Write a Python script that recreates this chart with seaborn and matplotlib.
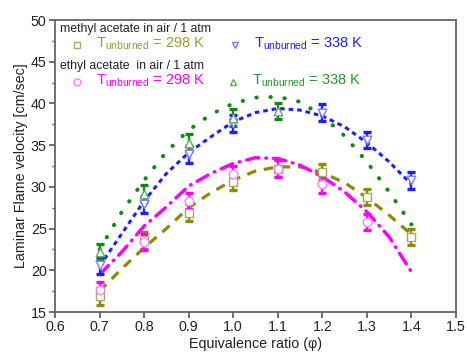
import numpy as np
import pandas as pd
import matplotlib
matplotlib.use("Agg")
import matplotlib.pyplot as plt
import seaborn as sns

# ---- data ----
phi_pts = [0.7, 0.8, 0.9, 1.0, 1.1, 1.2, 1.3, 1.4]
methyl_298 = [16.9, 23.6, 26.9, 30.6, 32.2, 31.8, 28.8, 24.0]
methyl_338 = [20.6, 27.9, 33.9, 37.6, np.nan, 38.9, 35.6, 30.8]
ethyl_298 = [17.6, 23.4, 28.3, 31.5, 32.2, 30.3, 25.8, np.nan]
ethyl_338 = [22.2, 29.2, 35.3, 38.3, 39.1, np.nan, np.nan, np.nan]
err = [1.0, 1.0, 1.0, 1.0, 1.0, 1.0, 1.0, 1.0]

phi_fit = [0.7, 0.75, 0.8, 0.85, 0.9, 0.95, 1.0, 1.05, 1.1, 1.15, 1.2, 1.25, 1.3, 1.35, 1.4]
fit_methyl_298 = [17.5, 20.2, 22.7, 25.0, 27.5, 29.3, 30.8, 31.9, 32.4, 32.4, 31.7, 30.5, 28.7, 26.6, 24.3]
fit_methyl_338 = [20.5, 24.4, 28.3, 31.6, 34.1, 36.0, 37.8, 38.9, 39.4, 39.2, 38.5, 37.2, 35.3, 33.0, 30.3]
fit_ethyl_298 = [19.5, 22.2, 25.3, 27.6, 30.1, 31.6, 32.8, 33.5, 33.4, 32.6, 31.2, 29.4, 27.0, 24.0, 19.8]
fit_ethyl_338 = [22.5, 27.0, 30.8, 34.2, 36.8, 38.7, 40.0, 40.7, 40.8, 40.2, 38.5, 36.1, 33.0, 29.4, 25.5]

xticks = [0.6, 0.7, 0.8, 0.9, 1.0, 1.1, 1.2, 1.3, 1.4, 1.5]
yticks = [15, 20, 25, 30, 35, 40, 45, 50]

sns.set_theme(style="ticks")
plt.rcParams['font.family'] = ['Liberation Sans', 'DejaVu Sans']
plt.rcParams['mathtext.fontset'] = 'custom'
plt.rcParams['mathtext.rm'] = 'Liberation Sans'
plt.rcParams['mathtext.it'] = 'Liberation Sans'

fig = plt.figure(figsize=(4.67, 3.54), dpi=100)
ax = fig.add_axes([0.1178, 0.1186, 0.8586, 0.8249])

OLIVE = "#8c8c00"
BLUE = "#1e1eff"
MAG = "#ff00ff"
GREEN = "#118811"

fits = [
    (fit_methyl_298, OLIVE, (3.0, 2.4), 2.3, "butt"),
    (fit_methyl_338, BLUE, (1.5, 1.3), 2.2, "butt"),
    (fit_ethyl_298, MAG, (3.6, 2.0, 0.2, 2.0), 2.5, "round"),
    (fit_ethyl_338, GREEN, (0.1, 3.4), 2.9, "round"),
]
for vals, col, dsh, lw, cap in fits:
    df = pd.DataFrame({"phi": phi_fit, "v": vals})
    sns.lineplot(data=df, x="phi", y="v", ax=ax, color=col, lw=lw)
    l = ax.lines[-1]
    l.set_dashes(dsh)
    l.set_dash_capstyle(cap)

series = [
    (methyl_298, OLIVE, "#a8a860", "s"),
    (methyl_338, BLUE, "#7a7aff", "v"),
    (ethyl_298, MAG, "#ff80ff", "o"),
    (ethyl_338, GREEN, "#60a860", "^"),
]
for vals, ecol, mcol, mk in series:
    ax.errorbar(phi_pts, vals, yerr=err, fmt="none", ecolor=ecol,
                elinewidth=1.7, capsize=2.6, capthick=2.4, zorder=3)
    df = pd.DataFrame({"phi": phi_pts, "v": vals}).dropna()
    sns.scatterplot(data=df, x="phi", y="v", ax=ax, marker=mk, s=38,
                    facecolor="white", edgecolor=mcol, linewidth=1.0, zorder=4)

ax.set_xlim(0.6, 1.5)
ax.set_ylim(15, 50)
ax.set_xticks(xticks)
ax.set_xticklabels([f"{t:.1f}" for t in xticks])
ax.set_yticks(yticks)
ax.set_yticks([17.5, 22.5, 27.5, 32.5, 37.5, 42.5, 47.5], minor=True)
ax.tick_params(axis="both", which="major", labelsize=10.3, length=4, width=1.2,
               color="#555555", labelcolor="#222222", pad=2)
ax.tick_params(axis="y", which="minor", length=2.5, width=1.0, color="#555555")
for s in ax.spines.values():
    s.set_visible(True)
    s.set_color("#666666")
    s.set_linewidth(1.3)

ax.set_xlabel("Equivalence ratio (φ)", fontsize=10.3, color="#222222", labelpad=2)
ax.set_ylabel("Laminar Flame velocity [cm/sec]", fontsize=10.3, color="#222222", labelpad=2)

# ---- in-plot legend ----
tf = ax.transAxes
def px(x, y):
    return ((x - 55) / 401.0, (312 - y) / 292.0)

ax.text(*px(60, 29), "methyl acetate in air / 1 atm", transform=tf, fontsize=8.8,
        color="#222222", va="center", ha="left")
ax.text(*px(60, 66), "ethyl acetate  in air / 1 atm", transform=tf, fontsize=8.8,
        color="#222222", va="center", ha="left")
leg = [
    (77, 45, "s", "#a8a860", "#9a9a30", "298"),
    (235, 45, "v", "#7a7aff", BLUE, "338"),
    (77, 82, "o", "#ff80ff", MAG, "298"),
    (233, 82, "^", "#60a860", "#2a962a", "338"),
]
for x, y, mk, mcol, tcol, T in leg:
    ax.plot(*px(x, y), marker=mk, ms=5.0, mfc="white", mec=mcol, mew=1.0,
            transform=tf, ls="none", clip_on=False)
    ax.text(*px(x + 19, y - 1), r"T$_{\rm unburned}$ = " + T + " K", transform=tf,
            fontsize=10.5, color=tcol, va="center", ha="left")

fig.savefig("out.png", dpi=100)
